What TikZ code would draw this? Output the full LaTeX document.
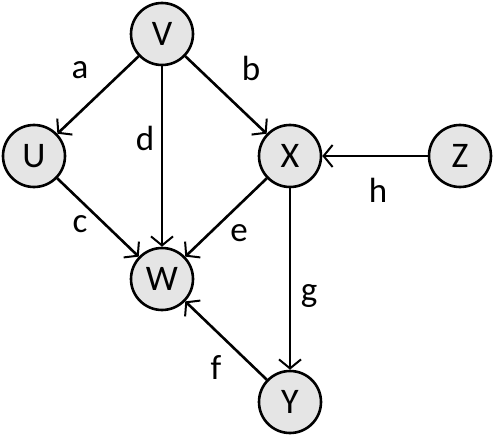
\documentclass[tikz,border=0pt]{standalone}
\usepackage{fontspec}
\setmainfont{Carlito}
\usetikzlibrary{arrows.meta}
\begin{document}
\begin{tikzpicture}[x=1pt,y=-1pt,
  vert/.style={circle,draw=black,fill=black!10,line width=2.6pt,minimum size=62pt,inner sep=0pt,font=\fontsize{36}{36}\selectfont},
  edge/.style={line width=2.6pt,-{Straight Barb[length=9pt,width=22pt,line width=2pt]}},
  lab/.style={font=\fontsize{35}{35}\selectfont,inner sep=0pt}]
\useasboundingbox (0,0) rectangle (495,436);
\node[vert] (V) at (162,34) {V};
\node[vert] (U) at (34,156) {U};
\node[vert] (X) at (290,156) {X};
\node[vert] (Z) at (460,156) {Z};
\node[vert] (W) at (162,279) {W};
\node[vert] (Y) at (290,402) {Y};
\draw[edge] (V) -- (U);
\draw[edge] (V) -- (W);
\draw[edge] (V) -- (X);
\draw[edge] (U) -- (W);
\draw[edge] (X) -- (W);
\draw[edge] (Z) -- (X);
\draw[edge] (X) -- (Y);
\draw[edge] (Y) -- (W);
\node[lab] (la) at (80,70) {a};
\node[lab] (lb) at (251,68) {b};
\node[lab] (ld) at (145,138) {d};
\node[lab] (lc) at (80,224) {c};
\node[lab] (le) at (239,233) {e};
\node[lab] (lh) at (378,190) {h};
\node[lab] (lg) at (309,296) {g};
\node[lab] (lf) at (216,367) {f};
\end{tikzpicture}
\end{document}
